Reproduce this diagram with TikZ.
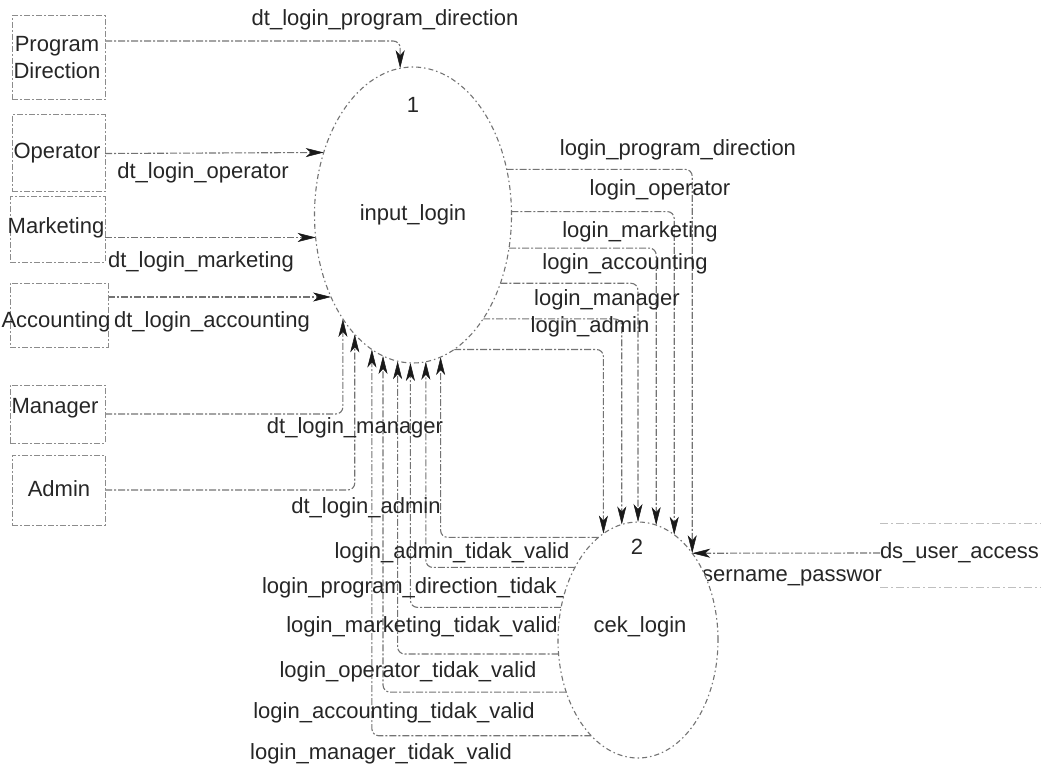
\documentclass[tikz,border=0pt]{standalone}
\usepackage{fontspec}
\setmainfont{Liberation Sans}
\usetikzlibrary{arrows.meta,shapes.geometric}
\pgfdeclarelayer{bg}
\pgfsetlayers{bg,main}
\begin{document}
\begin{tikzpicture}[x=1pt,y=-1pt,
  every node/.style={font=\fontsize{22}{27}\selectfont, text=black!85, inner sep=0pt, outer sep=0pt},
  flow/.style={draw=black!55, line width=1.1pt, dash pattern=on 7pt off 2pt on 2pt off 2pt, rounded corners=7pt},
  arr/.style={flow, -{Stealth[length=18pt,width=9pt,inset=5pt,color=black!90,line width=0.5pt]}},
  entity/.style={draw=black!45, line width=1pt, dash pattern=on 6pt off 2pt on 2pt off 2pt},
  proc/.style={ellipse, draw=black!55, line width=1.1pt, dash pattern=on 5pt off 3pt on 1.5pt off 3pt, fill=white, inner sep=0pt},
  storeline/.style={draw=black!25, line width=0.9pt, dash pattern=on 8pt off 3pt on 2pt off 3pt}
]
\useasboundingbox (0,0) rectangle (1041,770);

% processes
\node[proc, minimum width=197pt, minimum height=296pt] (p1) at (413,215) {input\_login};
\node (n1) at (413,105) {1};
\node[proc, minimum width=160pt, minimum height=236pt] (p2) at (638,640) {};
\node (n2) at (637,547) {2};
\node (t2) at (640,627) {cek\_login};

% external entities
\node[entity, minimum width=93pt, minimum height=84pt] (pd) at (58.5,58) {};
\node[align=center] (tpd) at (57,57.5) {Program\\Direction};
\node[entity, minimum width=93pt, minimum height=77pt] (op) at (58.5,153.5) {};
\node (top) at (57,153) {Operator};
\node[entity, minimum width=95pt, minimum height=65pt] (mk) at (57.5,229.5) {};
\node (tmk) at (56,228) {Marketing};
\node[entity, minimum width=98pt, minimum height=64pt] (ac) at (59,315) {};
\node (tac) at (56,322) {Accounting};
\node[entity, minimum width=95pt, minimum height=58pt] (mg) at (57.5,414) {};
\node (tmg) at (55,408) {Manager};
\node[entity, minimum width=93pt, minimum height=70pt] (ad) at (58.5,490) {};
\node (tad) at (59,489) {Admin};

% data store
\node[anchor=west] (ds) at (880,553) {ds\_user\_access};
\draw[storeline] (ds.west |- 0,523) -- (1041,523);
\draw[storeline] (ds.west |- 0,587) -- (1041,587);

\begin{pgfonlayer}{bg}
% inputs to process 1
\draw[arr] ([yshift=17pt]pd.east) -| (p1.95.85);
\draw[arr] (op.east) -- (p1.145.26);
\draw[arr] (mk.east |- p1.193.3) -- (p1.193.3);
\draw[arr] (ac.east |- p1.225.5) -- (p1.225.5);
\draw[arr] (mg.east) -| (p1.236.1);
\draw[arr] (ad.east) -| (p1.244.1);

% process 1 to process 2
\draw[arr] (p1.26.71) -| (p2.58.2);
\draw[arr] (p1.2.91) -| (p2.71.74);
\draw[arr] (p1.341.27) -| (p2.81.61);
\draw[arr] (p1.322.15) -| (p2.90.5);
\draw[arr] (p1.304.0) -| (p2.98.9);
\draw[arr] (p1.287.34) -| (p2.108.86);

% process 2 back to process 1
\draw[arr] (p2.111.51) -| (p1.281.16);
\draw[arr] (p2.131.37) -| (p1.275.06);
\draw[arr] (p2.157.44) -| (p1.269.6);
\draw[arr] (p2.190.7) -| (p1.264.15);
\draw[arr] (p2.216.55) -| (p1.258.41);
\draw[arr] (p2.244.82) -| (p1.253.06);

% data store to process 2
\draw[arr] (ds.west) -- (p2.58.2);

% labels
\node (lpd) at (385,20) {dt\_login\_program\_direction};
\node (lop) at (203,173) {dt\_login\_operator};
\node (lmk) at (201,262) {dt\_login\_marketing};
\node (lac) at (212,322) {dt\_login\_accounting};
\node (lmg) at (355,428) {dt\_login\_manager};
\node (lad) at (366,508) {dt\_login\_admin};
\node (opd) at (678,150) {login\_program\_direction};
\node (oop) at (660,190) {login\_operator};
\node (omk) at (640,232) {login\_marketing};
\node (oac) at (625,264) {login\_accounting};
\node (omg) at (607,300) {login\_manager};
\node (oad) at (590,327) {login\_admin};
\node (iad) at (452,553) {login\_admin\_tidak\_valid};
\node[anchor=west] (ipd) at (262,588) {login\_program\_direction\_tidak\_};
\node (imk) at (422,627) {login\_marketing\_tidak\_valid};
\node (iop) at (408,672) {login\_operator\_tidak\_valid};
\node (iac) at (394,713) {login\_accounting\_tidak\_valid};
\node (img) at (381,754) {login\_manager\_tidak\_valid};
\node[anchor=west] (lup) at (690,578) {username\_passwor};
\end{pgfonlayer}
\end{tikzpicture}
\end{document}
